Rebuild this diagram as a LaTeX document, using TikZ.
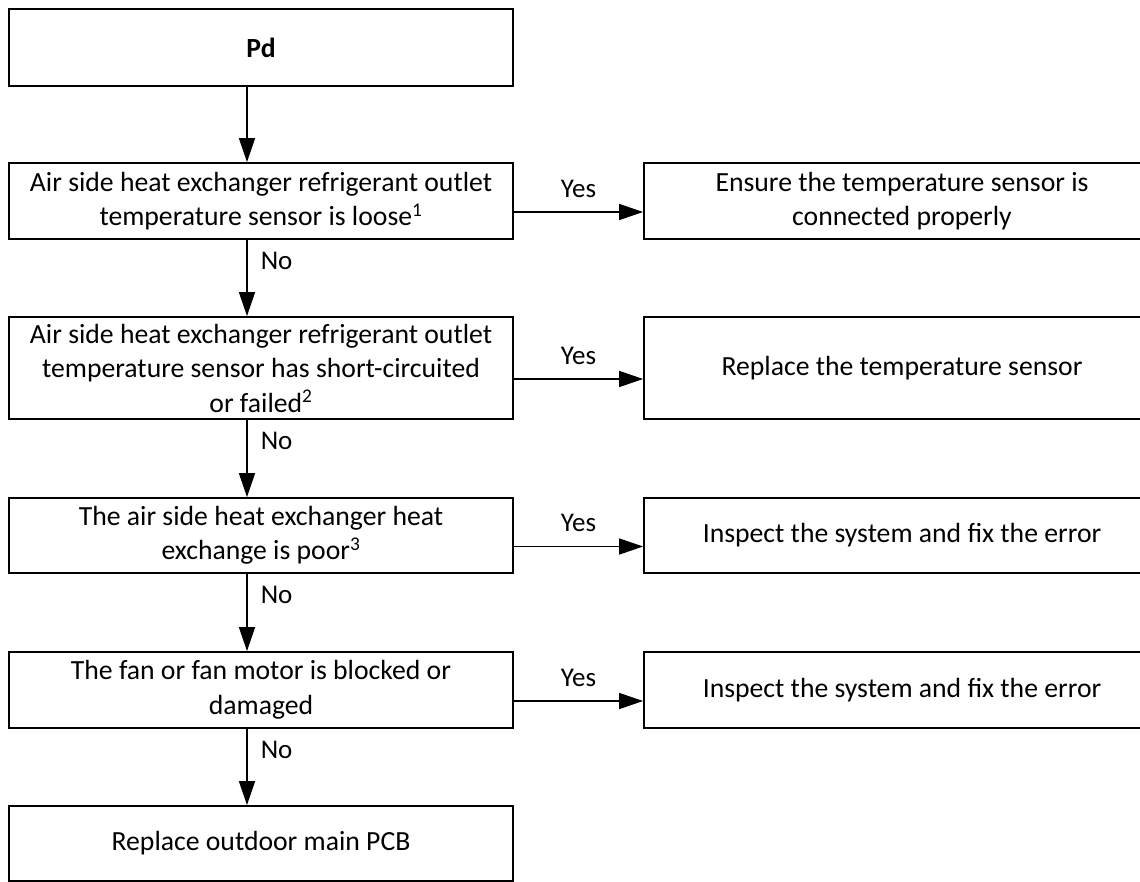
\documentclass[tikz,border=0pt]{standalone}
\usepackage{fontspec}
\setmainfont{Carlito}
\usetikzlibrary{arrows.meta}
\tikzset{
  box/.style = {draw, line width = 1.8pt, align = center, inner sep = 0pt,
                font = \fontsize{27.7pt}{34.5pt}\selectfont},
  lbox/.style = {box, minimum width = 504pt},
  rbox/.style = {box, minimum width = 516pt},
  flow/.style = {-{Triangle[length = 24pt, width = 16pt]}, line width = 1.5pt},
  yes/.style = {midway, above = 14pt, inner sep = 0pt,
                font = \fontsize{27pt}{30pt}\selectfont},
  no/.style = {pos = 0, anchor = north west, xshift = 13pt, yshift = -12pt,
               inner sep = 0pt, font = \fontsize{27pt}{30pt}\selectfont}
}
\begin{document}
\begin{tikzpicture}[x = 1pt, y = -1pt]
  \clip (0,0) rectangle (1140,882);
  \coordinate (ax) at (247,0);
  \node [lbox, minimum height = 77pt] (pd) at (261,47.5) {\textbf{Pd}};
  \node [lbox, minimum height = 76pt] (q1) at (261,201)
    {Air side heat exchanger refrigerant outlet\\temperature sensor is loose\textsuperscript{1}};
  \node [lbox, minimum height = 102pt] (q2) at (261,368)
    {Air side heat exchanger refrigerant outlet\\temperature sensor has short-circuited\\or failed\textsuperscript{2}};
  \node [lbox, minimum height = 75pt] (q3) at (261,535.5)
    {The air side heat exchanger heat\\exchange is poor\textsuperscript{3}};
  \node [lbox, minimum height = 76pt] (q4) at (261,690)
    {The fan or fan motor is blocked or\\damaged};
  \node [lbox, minimum height = 75pt] (pcb) at (261,843.5) {Replace outdoor main PCB};
  \node [rbox, minimum height = 76pt] (r1) at (902,201)
    {Ensure the temperature sensor is\\connected properly};
  \node [rbox, minimum height = 102pt] (r2) at (902,368) {Replace the temperature sensor};
  \node [rbox, minimum height = 75pt] (r3) at (902,535.5) {Inspect the system and fix the error};
  \node [rbox, minimum height = 76pt] (r4) at (902,690) {Inspect the system and fix the error};
  \draw [flow] (pd.south -| ax) -- (q1.north -| ax);
  \draw [flow] (q1.south -| ax) -- node [no] {No} (q2.north -| ax);
  \draw [flow] (q2.south -| ax) -- node [no] {No} (q3.north -| ax);
  \draw [flow] (q3.south -| ax) -- node [no] {No} (q4.north -| ax);
  \draw [flow] (q4.south -| ax) -- node [no] {No} (pcb.north -| ax);
  \draw [flow] ([yshift = -11pt] q1.east) -- node [yes] {Yes} ([yshift = -11pt] r1.west);
  \draw [flow] ([yshift = -11pt] q2.east) -- node [yes] {Yes} ([yshift = -11pt] r2.west);
  \draw [flow] ([yshift = -11pt] q3.east) -- node [yes] {Yes} ([yshift = -11pt] r3.west);
  \draw [flow] ([yshift = -11pt] q4.east) -- node [yes] {Yes} ([yshift = -11pt] r4.west);
\end{tikzpicture}
\end{document}
